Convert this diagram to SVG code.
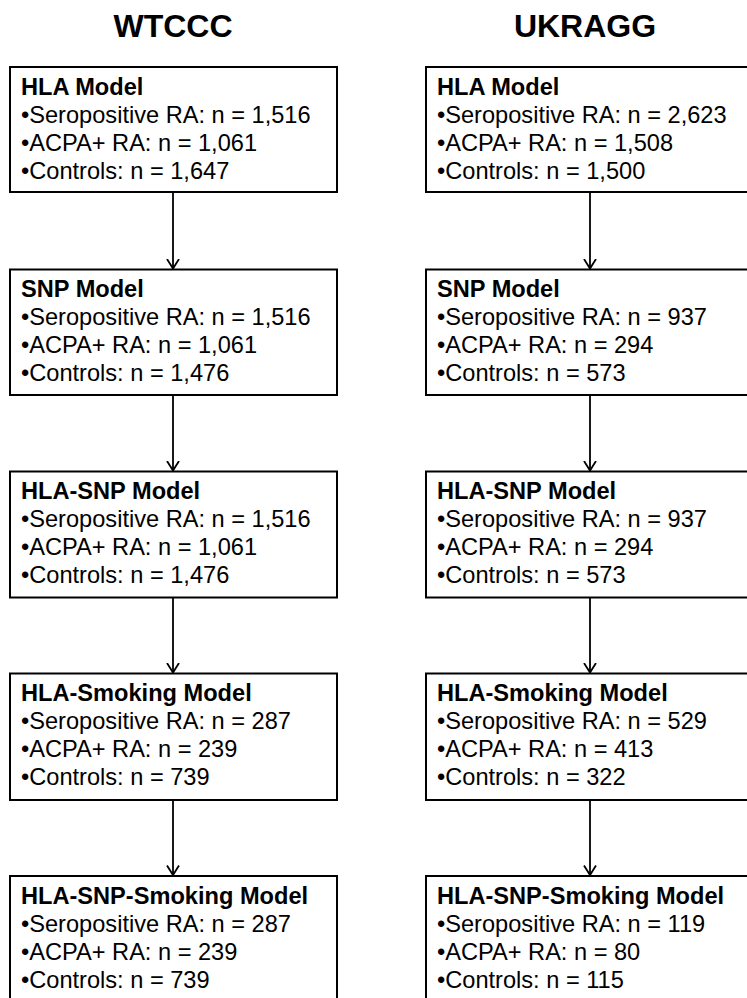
<svg xmlns="http://www.w3.org/2000/svg" width="747" height="998" viewBox="0 0 747 998">
<style>
.box{fill:#fff;stroke:#000;stroke-width:2}
.hd{font-family:"Liberation Sans",Arial,sans-serif;font-weight:bold;font-size:32px;text-anchor:middle;fill:#000}
.t{font-family:"Liberation Sans",Arial,sans-serif;font-weight:bold;font-size:23.6px;fill:#000}
.i{font-family:"Liberation Sans",Arial,sans-serif;font-size:23.6px;fill:#000}
.c{stroke:#000;stroke-width:1.8;fill:none}
</style>
<defs>
<marker id="ar" markerWidth="12" markerHeight="14" refX="10" refY="7" orient="auto" markerUnits="userSpaceOnUse" viewBox="0 0 12 14">
<path d="M0.5,1 L10,7 L0.5,13" fill="none" stroke="#000" stroke-width="1.8"/>
</marker>
</defs>
<rect width="747" height="998" fill="#fff"/>
<text class="hd" x="173" y="37">WTCCC</text>
<text class="hd" x="585" y="37">UKRAGG</text>
<g id="connectors">
<line class="c" x1="173" y1="192" x2="173" y2="268.5" marker-end="url(#ar)"/>
<line class="c" x1="173" y1="395" x2="173" y2="470.5" marker-end="url(#ar)"/>
<line class="c" x1="173" y1="597.5" x2="173" y2="672.5" marker-end="url(#ar)"/>
<line class="c" x1="173" y1="800" x2="173" y2="875" marker-end="url(#ar)"/>
<line class="c" x1="590" y1="192" x2="590" y2="268.5" marker-end="url(#ar)"/>
<line class="c" x1="590" y1="395" x2="590" y2="470.5" marker-end="url(#ar)"/>
<line class="c" x1="590" y1="597.5" x2="590" y2="672.5" marker-end="url(#ar)"/>
<line class="c" x1="590" y1="800" x2="590" y2="875" marker-end="url(#ar)"/>
</g>
<g id="w1"><rect class="box" x="10" y="67" width="327" height="125"/>
<text class="t" x="21" y="94.5">HLA Model</text>
<text class="i" x="21" y="122.5">•Seropositive RA: n = 1,516</text>
<text class="i" x="21" y="150.5">•ACPA+ RA: n = 1,061</text>
<text class="i" x="21" y="178.5">•Controls: n = 1,647</text></g>
<g id="w2"><rect class="box" x="10" y="269.5" width="327" height="125.5"/>
<text class="t" x="21" y="297">SNP Model</text>
<text class="i" x="21" y="325">•Seropositive RA: n = 1,516</text>
<text class="i" x="21" y="353">•ACPA+ RA: n = 1,061</text>
<text class="i" x="21" y="381">•Controls: n = 1,476</text></g>
<g id="w3"><rect class="box" x="10" y="471.5" width="327" height="126"/>
<text class="t" x="21" y="499">HLA-SNP Model</text>
<text class="i" x="21" y="527">•Seropositive RA: n = 1,516</text>
<text class="i" x="21" y="555">•ACPA+ RA: n = 1,061</text>
<text class="i" x="21" y="583">•Controls: n = 1,476</text></g>
<g id="w4"><rect class="box" x="10" y="673.5" width="327" height="126.5"/>
<text class="t" x="21" y="701">HLA-Smoking Model</text>
<text class="i" x="21" y="729">•Seropositive RA: n = 287</text>
<text class="i" x="21" y="757">•ACPA+ RA: n = 239</text>
<text class="i" x="21" y="785">•Controls: n = 739</text></g>
<g id="w5"><rect class="box" x="10" y="876" width="327" height="130"/>
<text class="t" x="21" y="903.5">HLA-SNP-Smoking Model</text>
<text class="i" x="21" y="931.5">•Seropositive RA: n = 287</text>
<text class="i" x="21" y="959.5">•ACPA+ RA: n = 239</text>
<text class="i" x="21" y="987.5">•Controls: n = 739</text></g>
<g id="u1"><rect class="box" x="426" y="67" width="330" height="125"/>
<text class="t" x="437" y="94.5">HLA Model</text>
<text class="i" x="437" y="122.5">•Seropositive RA: n = 2,623</text>
<text class="i" x="437" y="150.5">•ACPA+ RA: n = 1,508</text>
<text class="i" x="437" y="178.5">•Controls: n = 1,500</text></g>
<g id="u2"><rect class="box" x="426" y="269.5" width="330" height="125.5"/>
<text class="t" x="437" y="297">SNP Model</text>
<text class="i" x="437" y="325">•Seropositive RA: n = 937</text>
<text class="i" x="437" y="353">•ACPA+ RA: n = 294</text>
<text class="i" x="437" y="381">•Controls: n = 573</text></g>
<g id="u3"><rect class="box" x="426" y="471.5" width="330" height="126"/>
<text class="t" x="437" y="499">HLA-SNP Model</text>
<text class="i" x="437" y="527">•Seropositive RA: n = 937</text>
<text class="i" x="437" y="555">•ACPA+ RA: n = 294</text>
<text class="i" x="437" y="583">•Controls: n = 573</text></g>
<g id="u4"><rect class="box" x="426" y="673.5" width="330" height="126.5"/>
<text class="t" x="437" y="701">HLA-Smoking Model</text>
<text class="i" x="437" y="729">•Seropositive RA: n = 529</text>
<text class="i" x="437" y="757">•ACPA+ RA: n = 413</text>
<text class="i" x="437" y="785">•Controls: n = 322</text></g>
<g id="u5"><rect class="box" x="426" y="876" width="330" height="130"/>
<text class="t" x="437" y="903.5">HLA-SNP-Smoking Model</text>
<text class="i" x="437" y="931.5">•Seropositive RA: n = 119</text>
<text class="i" x="437" y="959.5">•ACPA+ RA: n = 80</text>
<text class="i" x="437" y="987.5">•Controls: n = 115</text></g>
</svg>
